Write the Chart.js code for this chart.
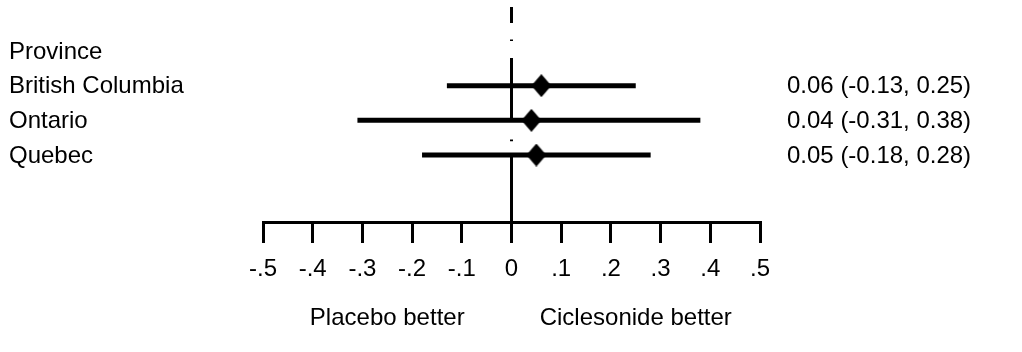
<!DOCTYPE html>
<html>
<head>
<meta charset="utf-8">
<script src="https://cdn.jsdelivr.net/npm/chart.js@4/dist/chart.umd.min.js"></script>
<style>
  html, body { margin: 0; padding: 0; background: #fff; }
  #wrap { width: 1022px; height: 352px; position: relative; }
</style>
</head>
<body>
<div id="wrap"><canvas id="c" width="1022" height="352"></canvas></div>
<script>
// ---------------- DATA ----------------
const headerLabel = 'Province';
const categories = ['British Columbia', 'Ontario', 'Quebec'];
const estimates  = [0.06, 0.04, 0.05];
const lowerCI    = [-0.13, -0.31, -0.18];
const upperCI    = [0.25, 0.38, 0.28];
const tickValues = [-0.5, -0.4, -0.3, -0.2, -0.1, 0, 0.1, 0.2, 0.3, 0.4, 0.5];
const tickLabels = ['-.5', '-.4', '-.3', '-.2', '-.1', '0', '.1', '.2', '.3', '.4', '.5'];
const sideLabels = ['Placebo better', 'Ciclesonide better'];
const sideLabelAt = [-0.25, 0.25];
// row index of each study (header is row 0)
const headerRow = 0;
const rows = [1, 2, 3];
// reference (null effect) line pieces, in row units, drawn at x = 0
const zeroLinePieces = [[-1.27, -0.81], [-0.335, -0.29], [0.2, 2.05], [2.555, 2.6], [2.97, 4.94]];

// ---------------- STYLE ----------------
const FONT = '"Liberation Sans", Arial, Helvetica, sans-serif';
const FONT_SIZE = 24;

function diamondImage(w, h) {
  const cv = document.createElement('canvas');
  cv.width = w; cv.height = h;
  const g = cv.getContext('2d');
  g.fillStyle = '#000';
  g.beginPath();
  g.moveTo(w / 2, 0); g.lineTo(w, h / 2); g.lineTo(w / 2, h); g.lineTo(0, h / 2);
  g.closePath(); g.fill();
  return cv;
}
const diamond = diamondImage(20, 23);

const datasets = [];
// zero line
const zeroData = [];
zeroLinePieces.forEach(p => {
  zeroData.push({x: 0, y: p[0]}, {x: 0, y: p[1]}, {x: 0, y: null});
});
datasets.push({
  type: 'line', data: zeroData, borderColor: '#000', borderWidth: 3,
  pointRadius: 0, spanGaps: false, borderCapStyle: 'butt', clip: false, order: 3
});
// CI lines
categories.forEach((c, i) => {
  datasets.push({
    type: 'line', label: c,
    data: [{x: lowerCI[i], y: rows[i]}, {x: upperCI[i], y: rows[i]}],
    borderColor: '#000', borderWidth: 5, pointRadius: 0, borderCapStyle: 'butt', clip: false, order: 2
  });
});
// point estimates
datasets.push({
  type: 'scatter',
  data: estimates.map((e, i) => ({x: e, y: rows[i]})),
  pointStyle: diamond, pointRadius: 10, clip: false, order: 1
});

const textPlugin = {
  id: 'forestText',
  afterDraw(chart) {
    const {ctx} = chart;
    const x = chart.scales.x, y = chart.scales.y;
    ctx.save();
    ctx.font = FONT_SIZE + 'px ' + FONT;
    ctx.fillStyle = '#000';
    ctx.textBaseline = 'middle';
    ctx.textAlign = 'left';
    ctx.fillText(headerLabel, 9, y.getPixelForValue(headerRow) + 1);
    categories.forEach((c, i) => ctx.fillText(c, 9, y.getPixelForValue(rows[i]) + 1));
    categories.forEach((c, i) => {
      const t = estimates[i].toFixed(2) + ' (' + lowerCI[i].toFixed(2) + ', ' + upperCI[i].toFixed(2) + ')';
      ctx.fillText(t, 787, y.getPixelForValue(rows[i]) + 1);
    });
    ctx.textAlign = 'center';
    sideLabels.forEach((t, i) => ctx.fillText(t, x.getPixelForValue(sideLabelAt[i]), 318));
    ctx.restore();
  }
};

new Chart(document.getElementById('c'), {
  data: {datasets},
  options: {
    responsive: false,
    animation: false,
    layout: {autoPadding: false, padding: {left: 263, right: 262, top: 0, bottom: 0}},
    plugins: {legend: {display: false}, tooltip: {enabled: false}},
    scales: {
      x: {
        type: 'linear', min: -0.5, max: 0.5, position: 'bottom',
        afterBuildTicks: s => { s.ticks = tickValues.map(v => ({value: v})); },
        afterFit: s => { s.height = 130; },
        grid: {drawOnChartArea: false, drawTicks: true, tickLength: 21, lineWidth: 3, color: '#000'},
        border: {display: true, width: 3, color: '#000'},
        ticks: {
          color: '#000', font: {family: FONT, size: FONT_SIZE}, padding: 12,
          maxRotation: 0, minRotation: 0, autoSkip: false,
          callback: (v, i) => tickLabels[i]
        }
      },
      y: {
        type: 'linear', display: false, reverse: true, min: -1.471, max: 4.932
      }
    }
  },
  plugins: [textPlugin]
});
</script>
</body>
</html>
